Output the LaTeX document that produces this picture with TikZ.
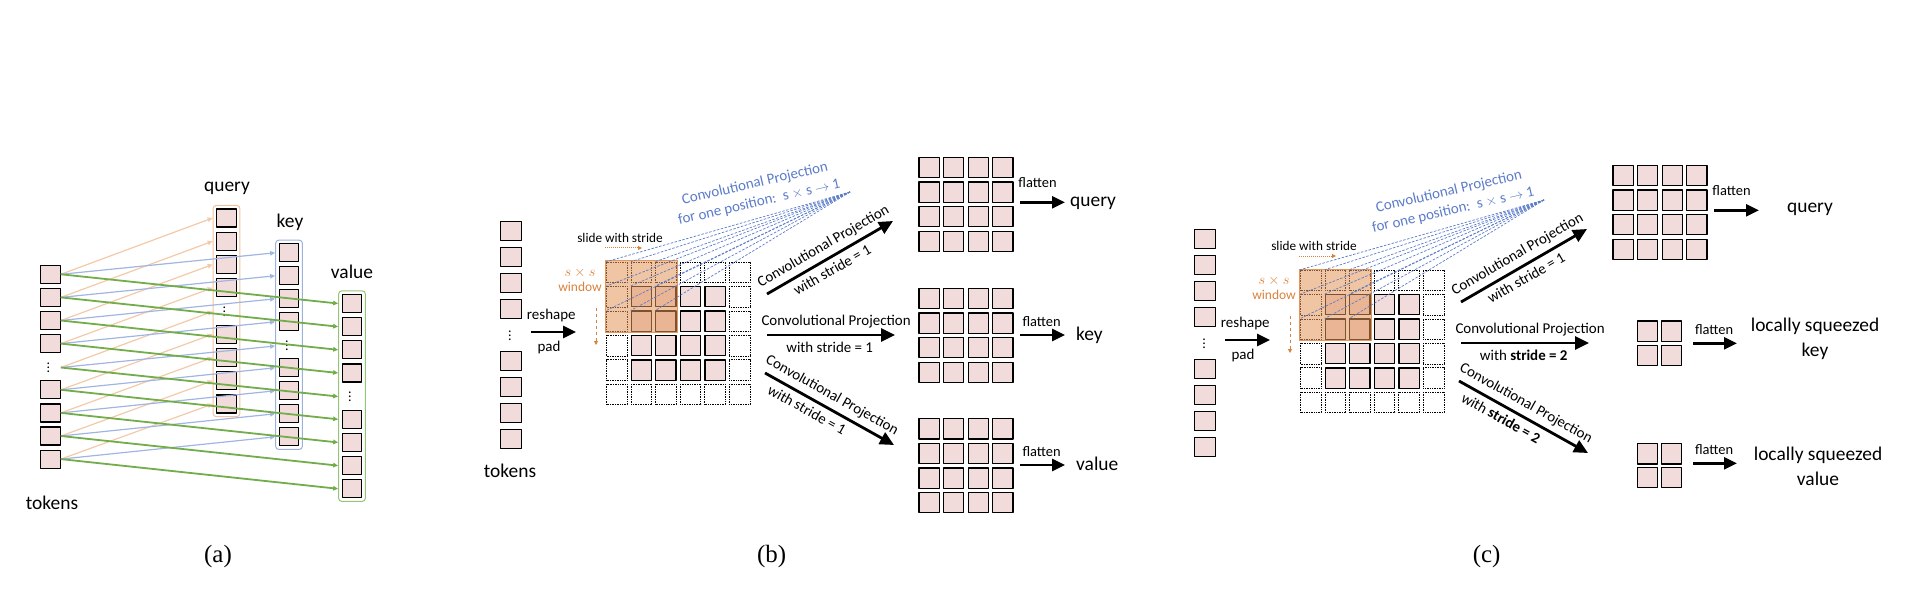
\documentclass[tikz,border=0pt]{standalone}
\usepackage{fontspec}
\setmainfont{Carlito}
\newfontfamily\capfont{Liberation Serif}
\usetikzlibrary{arrows.meta,fit}
\definecolor{tokpink}{HTML}{F2DCDB}
\definecolor{qorange}{HTML}{F4C9A8}
\definecolor{qborder}{HTML}{F4C19C}
\definecolor{kblue}{HTML}{A2B5E2}
\definecolor{kborder}{HTML}{9DB1DE}
\definecolor{vgreen}{HTML}{72AC4B}
\definecolor{vborder}{HTML}{93C477}
\definecolor{winorange}{HTML}{E4965A}
\definecolor{sorange}{HTML}{D9823B}
\definecolor{projblue}{HTML}{5B7BC9}
\tikzset{
  tok/.style={draw, line width=1.2bp, fill=tokpink, minimum width=19.5bp, minimum height=18bp, inner sep=0},
  tokb/.style={tok, minimum width=20.5bp, minimum height=19bp},
  cell/.style={draw, line width=1.2bp, fill=tokpink, minimum size=20.2bp, inner sep=0},
  padcell/.style={draw, densely dotted, line width=0.7bp, fill=white, minimum size=20.5bp, inner sep=0},
  vdot/.style={inner sep=0, font=\fontsize{14}{14}\selectfont, text height=9.4bp, text depth=0bp},
  colbox/.style={draw, rounded corners=3bp, line width=1bp, inner sep=3bp},
  lbl/.style={font=\fontsize{19.5}{25}\selectfont, inner sep=0},
  proj/.style={font=\fontsize{15}{19}\selectfont, inner sep=0},
  small/.style={font=\fontsize{14.5}{16}\selectfont, inner sep=0},
  tiny/.style={font=\fontsize{13.3}{15}\selectfont, inner sep=0},
  caplbl/.style={font=\capfont\fontsize{25}{25}\selectfont, inner sep=0},
  thin arrow/.style={-{Triangle[length=5bp,width=4.5bp]}, line width=1.2bp},
  fat arrow/.style={-{Triangle[length=14bp,width=13bp]}, line width=2.8bp},
  mid arrow/.style={-{Triangle[length=13bp,width=12bp]}, line width=2.6bp},
  projline/.style={projblue, dash pattern=on 2.5bp off 1.5bp, line width=0.7bp},
  win/.style={draw=winorange, fill=winorange, fill opacity=0.55, line width=0.8bp, inner sep=0.8bp},
}
\begin{document}
\begin{tikzpicture}[x=1bp, y=-1bp, line join=round]
\useasboundingbox (0,0) rectangle (1908,594);
% (a) tokens to query, key, value
\foreach \k in {0,1,2,3,5,6,7,8} {
  \node[tok] (ta\k) at (50.5,274.3+23.1*\k) {};
  \node[tok] (qa\k) at (226.5,218+23.25*\k) {};
  \node[tok] (ka\k) at (289,252.8+23*\k) {};
  \node[tok] (va\k) at (352,303.5+23.16*\k) {};
}
\node[vdot] (ta4) at (48.5,367.5) {$\vdots$};
\node[vdot] (qa4) at (224.5,311.5) {$\vdots$};
\node[vdot] (ka4) at (287,346) {$\vdots$};
\node[vdot] (va4) at (350,396.5) {$\vdots$};
\node[colbox, draw=qborder, fit=(qa0)(qa8)] (qbox) {};
\node[colbox, draw=kborder, fit=(ka0)(ka8)] (kbox) {};
\node[colbox, draw=vborder, fit=(va0)(va8)] (vbox) {};
\foreach \k in {0,...,8} \draw[thin arrow, qorange] (ta\k.center -| ta0.east) -- (qa\k.center -| qbox.west);
\foreach \k in {0,...,8} \draw[thin arrow, kblue] (ta\k.center -| ta0.east) -- (ka\k.center -| kbox.west);
\foreach \k in {0,...,8} \draw[thin arrow, vgreen, line width=1.8bp] (ta\k.center -| ta0.east) -- (va\k.center -| vbox.west);
\node[lbl, anchor=base] (lqa) at (227,192) {query};
\node[lbl, anchor=base] (lka) at (290,228) {key};
\node[lbl, anchor=base] (lva) at (352,279) {value};
\node[lbl, anchor=base] (tka) at (52,509) {tokens};
\node[caplbl, anchor=base] (capa) at (218,562) {(a)};
% (b) and (c): reshape, pad and convolutional projection
\foreach \p/\dx/\dy/\st in {b/0/0/{stride = 1}, c/694/8/{\textbf{stride = 2}}} {
\begin{scope}[shift={(\dx,\dy)}]
  \foreach \k in {0,1,2,3,5,6,7,8} \node[tokb] (t\p\k) at (511,231+26.04*\k) {};
  \node[vdot] (t\p4) at (510,336) {$\vdots$};
  \coordinate (rs\p) at (531,332);
  \coordinate (re\p) at (576,332);
  \draw[mid arrow] (rs\p) -- node[proj, above=8.5bp, pos=.45]{reshape} node[proj, below=8bp, pos=.4]{pad} (re\p);
  \foreach \i in {0,...,5} \foreach \j in {0,...,5} {
    \pgfmathtruncatemacro\inn{and(and(\i>0,\i<5),and(\j>0,\j<5))}
    \ifnum\inn=1 \node[cell] (g\p\i\j) at (616.8+24.56*\j,272.3+24.44*\i) {};
    \else \node[padcell] (g\p\i\j) at (616.8+24.56*\j,272.3+24.44*\i) {};
    \fi
  }
  \node[win, fit=(g\p00)(g\p22)] (w\p) {};
  \coordinate (ap\p) at (850,192);
  \foreach \i in {0,1,2} \foreach \j in {0,1,2} \draw[projline] (ap\p) -- (g\p\i\j.north west);
  \node[proj, text=projblue, rotate=13, align=center] (pt\p) at (757,193) {Convolutional Projection\\for one position:\, s $\times$ s $\rightarrow$ 1};
  \node[tiny] (sl\p) at (620,238) {slide with stride};
  \coordinate (ha\p) at (605,248);
  \coordinate (hb\p) at (642,248);
  \draw[sorange, densely dotted, line width=1bp, -{Triangle[length=4bp,width=4bp]}] (ha\p) -- (hb\p);
  \node[tiny, text=sorange, align=center, font=\fontsize{13.5}{15}\selectfont] (sw\p) at (580,280) {$s\times s$\\window};
  \coordinate (da\p) at (596,308);
  \coordinate (db\p) at (596,345);
  \draw[sorange, dashed, line width=0.8bp, -{Triangle[length=4bp,width=4bp]}] (da\p) -- (db\p);
  \coordinate (a1s\p) at (767,294);
  \coordinate (a1e\p) at (893,221);
  \coordinate (a2s\p) at (767,335);
  \coordinate (a2e\p) at (895,335);
  \coordinate (a3s\p) at (765,373);
  \coordinate (a3e\p) at (894,445);
  \draw[fat arrow] (a1s\p) -- node[proj, sloped, above=5bp, pos=.5]{Convolutional Projection} node[proj, sloped, below=5bp, pos=.47]{with stride = 1} (a1e\p);
  \draw[fat arrow] (a2s\p) -- node[proj, above=6bp, pos=.54]{Convolutional Projection} node[proj, below=5.5bp, pos=.49]{with \st} (a2e\p);
  \draw[fat arrow] (a3s\p) -- node[proj, sloped, above=5bp, pos=.47]{Convolutional Projection} node[proj, sloped, below=5bp, pos=.37]{with \st} (a3e\p);
\end{scope}
}
\node[lbl, anchor=base] (tkb) at (510,477) {tokens};
% (b) outputs
\foreach \r/\yy in {q/167.5, k/298.5, v/428.8}
  \foreach \i in {0,...,3} \foreach \j in {0,...,3} \node[cell] (o\r\i\j) at (929+24.6*\j,\yy+24.6*\i) {};
\coordinate (fqs) at (1020,202.3);
\coordinate (fqe) at (1065,202.3);
\coordinate (fks) at (1020,335);
\coordinate (fke) at (1065,335);
\coordinate (fvs) at (1020,465);
\coordinate (fve) at (1065,465);
\draw[mid arrow] (fqs) -- node[small, above=13bp, pos=.39]{flatten} (fqe);
\draw[mid arrow] (fks) -- node[small, above=7bp, pos=.48]{flatten} (fke);
\draw[mid arrow] (fvs) -- node[small, above=7bp, pos=.48]{flatten} (fve);
\node[lbl, anchor=base west] (lqb) at (1070,206.7) {query};
\node[lbl, anchor=base west] (lkb) at (1076,340) {key};
\node[lbl, anchor=base west] (lvb) at (1076,470) {value};
\node[caplbl, anchor=base] (capb) at (771.7,562) {(b)};
% (c) outputs
\foreach \i in {0,...,3} \foreach \j in {0,...,3} \node[cell] (cq\i\j) at (1623+24.6*\j,175.5+24.6*\i) {};
\foreach \i in {0,1} \foreach \j in {0,1} {
  \node[cell] (ck\i\j) at (1647.5+24*\j,331+24.3*\i) {};
  \node[cell] (cv\i\j) at (1647.5+24*\j,453.8+23.4*\i) {};
}
\coordinate (gqs) at (1714,210.3);
\coordinate (gqe) at (1759,210.3);
\coordinate (gks) at (1693,343.3);
\coordinate (gke) at (1737,343.3);
\coordinate (gvs) at (1693,463.3);
\coordinate (gve) at (1737,463.3);
\draw[mid arrow] (gqs) -- node[small, above=13bp, pos=.39]{flatten} (gqe);
\draw[mid arrow] (gks) -- node[small, above=7.5bp, pos=.48]{flatten} (gke);
\draw[mid arrow] (gvs) -- node[small, above=7.5bp, pos=.48]{flatten} (gve);
\node[lbl, anchor=base] (lqc) at (1810,213) {query};
\node[lbl, align=center] (lkc) at (1815,339) {locally squeezed\\key};
\node[lbl, align=center] (lvc) at (1818,466.7) {locally squeezed\\value};
\node[caplbl, anchor=base] (capc) at (1486.7,562) {(c)};
\end{tikzpicture}
\end{document}
